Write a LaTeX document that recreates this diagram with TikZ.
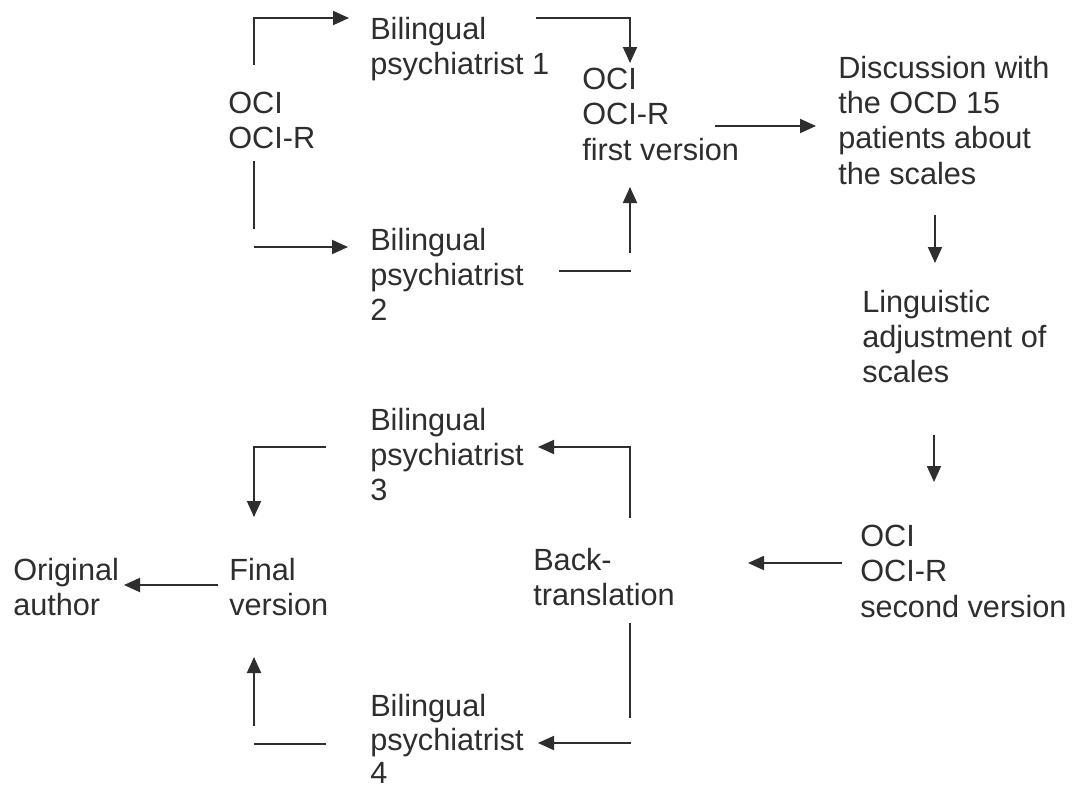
\documentclass[tikz,border=0pt]{standalone}
\usepackage{fontspec}
\setmainfont{Liberation Sans}
\usetikzlibrary{arrows.meta}
\definecolor{ink}{HTML}{2E2E2E}
\tikzset{
  lbl/.style={anchor=north west, inner sep=0pt, align=left, text=ink,
    font={\fontsize{23}{26.4}\selectfont}},
  lbltight/.style={lbl, font={\fontsize{23}{25.2}\selectfont}},
  ln/.style={draw=ink, line width=1.4pt},
  arr/.style={ln, -{Triangle[length=12pt,width=10.5pt]}}
}
\begin{document}
\begin{tikzpicture}[x=0.75pt,y=-0.75pt]
\useasboundingbox[fill=white] (0,0) rectangle (1072,789);
% nodes
\node[lbl] (oci)   at (228,92)  {OCI\\OCI-R};
\node[lbl] (bp1)   at (370,17)  {Bilingual\\psychiatrist 1};
\node[lbl] (fv)    at (582,68)  {OCI\\OCI-R\\first version};
\node[lbl] (disc)  at (838,56)  {Discussion with\\the OCD 15\\patients about\\the scales};
\node[lbl] (bp2)   at (370,228) {Bilingual\\psychiatrist\\2};
\node[lbl] (ling)  at (862,290) {Linguistic\\adjustment of\\scales};
\node[lbl] (sv)    at (860,525) {OCI\\OCI-R\\second version};
\node[lbl] (back)  at (533,548) {Back-\\translation};
\node[lbl] (bp3)   at (370,408) {Bilingual\\psychiatrist\\3};
\node[lbl] (final) at (229,558) {Final\\version};
\node[lbl] (orig)  at (13,558)  {Original\\author};
\node[lbltight] (bp4) at (370,694) {Bilingual\\psychiatrist\\4};
% connector end points
\coordinate (c1a) at (254,65);   \coordinate (c1b) at (349,18);
\coordinate (c2a) at (254,161);  \coordinate (c2b) at (254,229);
\coordinate (c2c) at (254,247);  \coordinate (c2d) at (348,247);
\coordinate (c3a) at (536,18);   \coordinate (c3b) at (630,63);
\coordinate (c4a) at (559,271);  \coordinate (c4b) at (631,271);
\coordinate (c4c) at (630,253);  \coordinate (c4d) at (630,187);
\coordinate (c5a) at (715,126);  \coordinate (c5b) at (816,126);
\coordinate (c6a) at (935,215);  \coordinate (c6b) at (935,263);
\coordinate (c7a) at (934,435);  \coordinate (c7b) at (934,482);
\coordinate (c8a) at (842,563);  \coordinate (c8b) at (748,563);
\coordinate (c9a) at (630,518);  \coordinate (c9b) at (538,447);
\coordinate (c10a) at (630,623); \coordinate (c10b) at (630,718);
\coordinate (c10c) at (631,743); \coordinate (c10d) at (538,743);
\coordinate (c11a) at (326,447); \coordinate (c11b) at (254,517);
\coordinate (c12a) at (326,744); \coordinate (c12b) at (254,744);
\coordinate (c12c) at (254,726); \coordinate (c12d) at (254,657);
\coordinate (c13a) at (218,585); \coordinate (c13b) at (124,585);
% connectors
\draw[arr] (c1a) |- (c1b);
\draw[ln]  (c2a) -- (c2b);
\draw[arr] (c2c) -- (c2d);
\draw[arr] (c3a) -| (c3b);
\draw[ln]  (c4a) -- (c4b);
\draw[arr] (c4c) -- (c4d);
\draw[arr] (c5a) -- (c5b);
\draw[arr] (c6a) -- (c6b);
\draw[arr] (c7a) -- (c7b);
\draw[arr] (c8a) -- (c8b);
\draw[arr] (c9a) |- (c9b);
\draw[ln]  (c10a) -- (c10b);
\draw[arr] (c10c) -- (c10d);
\draw[arr] (c11a) -| (c11b);
\draw[ln]  (c12a) -- (c12b);
\draw[arr] (c12c) -- (c12d);
\draw[arr] (c13a) -- (c13b);
\end{tikzpicture}
\end{document}
